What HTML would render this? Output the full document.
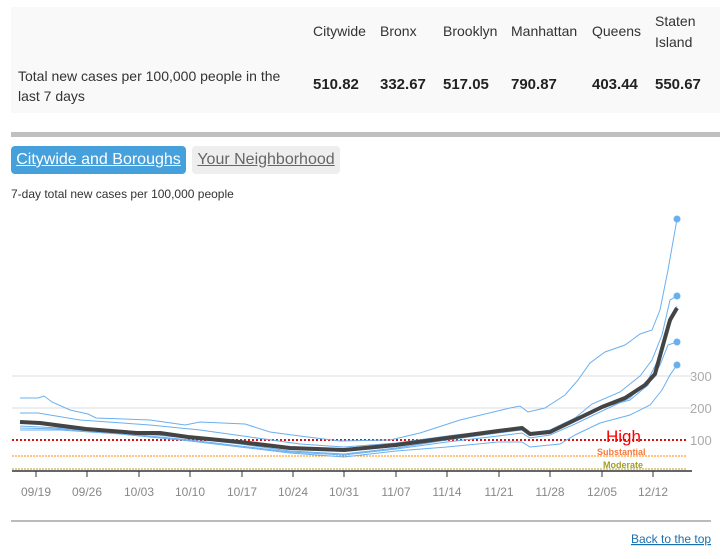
<!DOCTYPE html>
<html><head><meta charset="utf-8"><style>
body{margin:0;width:726px;height:559px;background:#fff;font-family:"Liberation Sans",sans-serif;color:#333;position:relative;overflow:hidden}
.tbl{position:absolute;left:11px;top:7px;width:709px;height:106px;background:#f9f9f9}
.t{position:absolute;font-size:14px;color:#333}
.v{position:absolute;font-size:15px;font-weight:bold;color:#222;top:76px}
.bar{position:absolute;left:11px;top:132px;width:709px;height:5px;background:#c0c0c0}
.b1{position:absolute;left:11px;top:146px;width:175px;height:28px;background:#45a0dc;border-radius:4px;color:#fff;font-size:16px;line-height:28px;text-align:center;text-decoration:underline}
.b2{position:absolute;left:192px;top:146px;width:148px;height:28px;background:#eee;border-radius:4px;color:#666;font-size:16px;line-height:28px;text-align:center;text-decoration:underline}
</style></head><body>
<div class="tbl"></div>
<div class="t" style="left:313px;top:23px">Citywide</div>
<div class="t" style="left:380px;top:23px">Bronx</div>
<div class="t" style="left:443px;top:23px">Brooklyn</div>
<div class="t" style="left:511px;top:23px">Manhattan</div>
<div class="t" style="left:592px;top:23px">Queens</div>
<div class="t" style="left:655px;top:11px;line-height:21px">Staten<br>Island</div>
<div class="t" style="left:18px;top:66px;line-height:20px;width:270px">Total new cases per 100,000 people in the last 7 days</div>
<div class="v" style="left:313px">510.82</div>
<div class="v" style="left:380px">332.67</div>
<div class="v" style="left:443px">517.05</div>
<div class="v" style="left:511px">790.87</div>
<div class="v" style="left:592px">403.44</div>
<div class="v" style="left:655px">550.67</div>
<div class="bar"></div>
<div class="b1">Citywide and Boroughs</div>
<div class="b2">Your Neighborhood</div>
<div class="t" style="left:11px;top:187px;font-size:12px">7-day total new cases per 100,000 people</div>
<svg width="726" height="559" style="position:absolute;left:0;top:0" font-family="Liberation Sans, sans-serif">
<line x1="12" y1="376" x2="692" y2="376" stroke="#ddd"/>
<line x1="12" y1="408" x2="692" y2="408" stroke="#ddd"/>
<g fill="#aaa" font-size="13"><text x="690" y="381">300</text><text x="690" y="413">200</text><text x="690" y="445">100</text></g>
<line x1="12" y1="440" x2="686" y2="440" stroke="#d11" stroke-width="2" stroke-dasharray="2,2"/>
<line x1="12" y1="456" x2="686" y2="456" stroke="#f80" stroke-width="1" stroke-dasharray="2,1"/>
<line x1="12" y1="469" x2="686" y2="469" stroke="#b9a030" stroke-width="1" stroke-dasharray="2,1"/>
<text x="606" y="442" fill="#f00" font-size="17">High</text>
<text x="597" y="455" fill="#f87a3a" font-size="9" font-weight="bold">Substantial</text>
<text x="603" y="468" fill="#a0a020" font-size="9" font-weight="bold">Moderate</text>
<line x1="12" y1="471" x2="692" y2="471" stroke="#333" stroke-width="1.5"/>
<g stroke="#333"><line x1="36" y1="471" x2="36" y2="477"/><line x1="87" y1="471" x2="87" y2="477"/><line x1="139" y1="471" x2="139" y2="477"/><line x1="190" y1="471" x2="190" y2="477"/><line x1="242" y1="471" x2="242" y2="477"/><line x1="293" y1="471" x2="293" y2="477"/><line x1="344" y1="471" x2="344" y2="477"/><line x1="396" y1="471" x2="396" y2="477"/><line x1="447" y1="471" x2="447" y2="477"/><line x1="499" y1="471" x2="499" y2="477"/><line x1="550" y1="471" x2="550" y2="477"/><line x1="602" y1="471" x2="602" y2="477"/><line x1="653" y1="471" x2="653" y2="477"/></g>
<g fill="#888" font-size="12" text-anchor="middle"><text x="36" y="496">09/19</text><text x="87" y="496">09/26</text><text x="139" y="496">10/03</text><text x="190" y="496">10/10</text><text x="242" y="496">10/17</text><text x="293" y="496">10/24</text><text x="344" y="496">10/31</text><text x="396" y="496">11/07</text><text x="447" y="496">11/14</text><text x="499" y="496">11/21</text><text x="550" y="496">11/28</text><text x="602" y="496">12/05</text><text x="653" y="496">12/12</text></g>
<g fill="none" stroke="#6ab0f0" stroke-width="1">
<polyline points="20,398 38,398 44,396 52,402 70,410 88,414 96,418 150,420 185,425 200,422 245,424 270,432 300,436 340,441 390,440 420,433 460,420 510,408 520,406 528,412 545,408 565,395 578,380 590,363 605,352 625,345 640,334 652,330 660,310 668,270 677,219"/>
<polyline points="20,413 38,413 80,420 150,425 200,430 250,437 300,444 344,447 396,443 447,436 498,430 520,428 530,433 550,430 575,418 592,404 620,392 640,376 652,360 662,335 670,300 677,296"/>
<polyline points="20,426 60,428 120,432 190,438 240,444 290,451 344,454 396,448 447,440 498,433 522,430 530,435 550,432 575,420 600,408 630,400 648,385 660,365 668,345 677,342"/>
<polyline points="20,430 60,430 120,434 190,441 240,447 290,453 344,457 396,451 447,447 498,442 522,442 530,447 560,444 575,435 600,423 630,415 650,405 662,390 670,375 677,365"/>
<polyline points="20,428 60,429 120,433 190,440 240,446 290,452 344,455 396,449 447,442 498,436 522,433 530,438 550,435 575,424 600,412 630,398 648,380 660,356 668,330 677,306"/>
</g>
<g fill="#6ab0f0"><circle cx="677" cy="219" r="3.5"/><circle cx="677" cy="296" r="3.5"/><circle cx="677" cy="342" r="3.5"/><circle cx="677" cy="365" r="3.5"/></g>
<polyline fill="none" stroke="#444" stroke-width="4" stroke-linejoin="round" points="20,422 40,423 86,429 137,433 160,433 188,437 240,442 290,448 344,450 396,445 447,438 498,431 522,428 530,434 550,432 575,420 602,407 625,398 645,385 655,374 663,345 670,320 677,308"/>
<line x1="11" y1="521" x2="711" y2="521" stroke="#777"/>
<text x="631" y="543" fill="#1a6fb0" font-size="12" text-decoration="underline">Back to the top</text>
</svg>
</body></html>
